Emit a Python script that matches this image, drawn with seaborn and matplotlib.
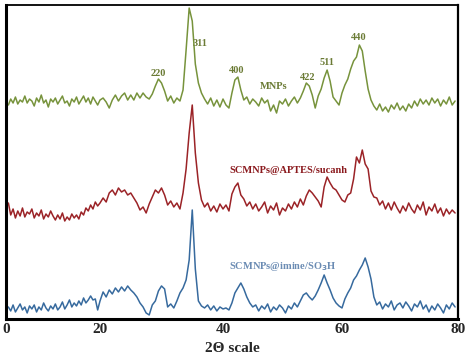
import numpy as np
import pandas as pd
import matplotlib
matplotlib.use("Agg")
import matplotlib.pyplot as plt
import seaborn as sns

# 2-theta grid of the scans
two_theta = np.arange(0.5, 80.0, 0.5)

# intensities (arbitrary units, already stacked)
mnps = [
    214, 220, 216, 222, 215, 219, 217, 223, 216, 220,
    218, 213, 221, 217, 224, 216, 219, 212, 220, 217,
    221, 215, 219, 223, 216, 218, 213, 220, 217, 222,
    215, 219, 223, 217, 221, 215, 222, 218, 214, 219,
    221, 217, 211, 219, 224, 218, 223, 226, 219, 224,
    219, 226, 221, 226, 222, 220, 225, 233, 240, 236,
    228, 218, 223, 216, 221, 218, 229, 269, 311, 298,
    255, 236, 226, 220, 215, 221, 213, 219, 212, 220,
    214, 211, 226, 239, 242, 229, 219, 222, 215, 220,
    217, 213, 221, 216, 219, 208, 214, 206, 218, 215,
    220, 213, 218, 222, 216, 221, 228, 236, 233, 224,
    211, 223, 230, 241, 249, 238, 222, 218, 214, 226,
    234, 240, 250, 258, 262, 274, 268, 248, 230, 219,
    213, 209, 215, 208, 212, 207, 214, 210, 216, 209,
    213, 208, 215, 211, 218, 213, 220, 215, 219, 214,
    221, 216, 220, 213, 219, 215, 222, 214, 218,
]
aptes = [
    116, 104, 110, 101, 108, 103, 111, 102, 107, 105,
    110, 101, 106, 103, 109, 100, 105, 102, 108, 103,
    99, 104, 100, 106, 98, 102, 99, 105, 101, 104,
    100, 107, 104, 111, 108, 114, 110, 117, 113, 116,
    121, 117, 126, 129, 124, 131, 127, 129, 124, 126,
    121, 116, 109, 112, 106, 115, 122, 129, 126, 131,
    124, 114, 118, 112, 116, 110, 126, 150, 186, 214,
    166, 136, 119, 112, 116, 108, 113, 107, 115, 110,
    114, 108, 125, 132, 136, 124, 120, 113, 117, 110,
    115, 108, 112, 117, 106, 113, 109, 116, 104, 111,
    108, 115, 110, 117, 112, 120, 114, 123, 129, 126,
    122, 118, 112, 132, 142, 136, 131, 129, 124, 119,
    117, 124, 126, 140, 162, 156, 169, 155, 150, 128,
    122, 121, 114, 118, 110, 116, 109, 117, 111, 106,
    113, 108, 116, 110, 106, 114, 109, 117, 104, 112,
    108, 115, 106, 111, 103, 110, 105, 109, 106,
]
imine = [
    12, 8, 14, 7, 11, 15, 9, 12, 6, 13,
    10, 14, 7, 12, 9, 16, 11, 8, 13, 10,
    15, 9, 12, 17, 10, 14, 19, 12, 16, 13,
    18, 14, 21, 16, 19, 23, 19, 20, 9, 18,
    27, 22, 29, 25, 31, 27, 32, 28, 33, 29,
    26, 22, 16, 12, 6, 4, 14, 18, 28, 33,
    30, 12, 15, 11, 18, 26, 31, 39, 59, 109,
    50, 18, 13, 11, 14, 9, 13, 8, 12, 10,
    11, 9, 16, 26, 31, 36, 30, 22, 16, 12,
    14, 8, 13, 10, 15, 7, 12, 9, 14, 11,
    6, 13, 10, 16, 12, 18, 24, 26, 22, 19,
    23, 29, 36, 44, 36, 29, 21, 16, 13, 11,
    20, 26, 31, 39, 43, 49, 54, 61, 52, 40,
    22, 14, 17, 10, 15, 12, 18, 9, 14, 16,
    11, 17, 13, 8, 15, 12, 18, 10, 14, 7,
    13, 9, 15, 11, 6, 14, 10, 16, 12,
]

series_names = ["MNPs", "SCMNPs@APTES/sucanh", "SCMNPs@imine/SO3H"]
line_colors = ["#77933c", "#9b2327", "#376a9e"]

peak_labels = ["220", "311", "400", "422", "511", "440"]
peak_pos = [29.5, 36.3, 42.3, 54.2, 57.5, 62.9]
peak_int = [246, 276, 249, 242, 257, 282]

df = pd.concat([
    pd.DataFrame({"two_theta": two_theta, "intensity": vals, "sample": name})
    for name, vals in zip(series_names, [mnps, aptes, imine])
])

sns.set_style("white")
plt.rcParams["font.family"] = ["Liberation Serif", "DejaVu Serif"]

fig = plt.figure(figsize=(4.74, 3.6), dpi=100)
ax = fig.add_axes([0.0127, 0.114, 0.9535, 0.872])

sns.lineplot(data=df, x="two_theta", y="intensity", hue="sample",
             palette=line_colors, estimator=None, linewidth=1.1,
             legend=False, ax=ax)

# the original x axis is stretched unevenly, mimic it
th_knots = [0, 20, 40, 60, 80]
px_knots = [0, 94, 217, 336, 452]
ax.set_xscale("function", functions=(lambda v: np.interp(v, th_knots, px_knots),
                                     lambda v: np.interp(v, px_knots, th_knots)))
ax.set_xlim(0, 80)
ax.set_ylim(0, 314)
ax.set_xticks([0, 20, 40, 60, 80])
ax.set_yticks([])
ax.tick_params(axis="x", length=0, pad=3)
for lab in ax.get_xticklabels():
    lab.set_fontweight("bold")
    lab.set_fontsize(11)
ax.set_xlabel("2Θ scale", fontsize=11, fontweight="bold", labelpad=4)
ax.set_ylabel("")

for side, lw in [("left", 2.2), ("bottom", 2.2), ("top", 1.3), ("right", 1.6)]:
    ax.spines[side].set_visible(True)
    ax.spines[side].set_color("black")
    ax.spines[side].set_linewidth(lw)

for lab, x, y in zip(peak_labels, peak_pos, peak_int):
    ax.text(x, y, lab, color="#6b7b35", fontsize=7.5, fontweight="bold",
            ha="center", va="center")
ax.text(48.5, 233, "MNPs", color="#6b7b35", fontsize=7.5, fontweight="bold",
        ha="center", va="center")
ax.text(51.0, 148, "SCMNPs@APTES/sucanh", color="#8b1a1e", fontsize=7.5,
        fontweight="bold", ha="center", va="center")
ax.text(50.0, 52, "SCMNPs@imine/SO$_\\mathbf{3}$H", color="#6a8bb3", fontsize=7.5,
        fontweight="bold", ha="center", va="center")

plt.savefig("out.png", dpi=100)
